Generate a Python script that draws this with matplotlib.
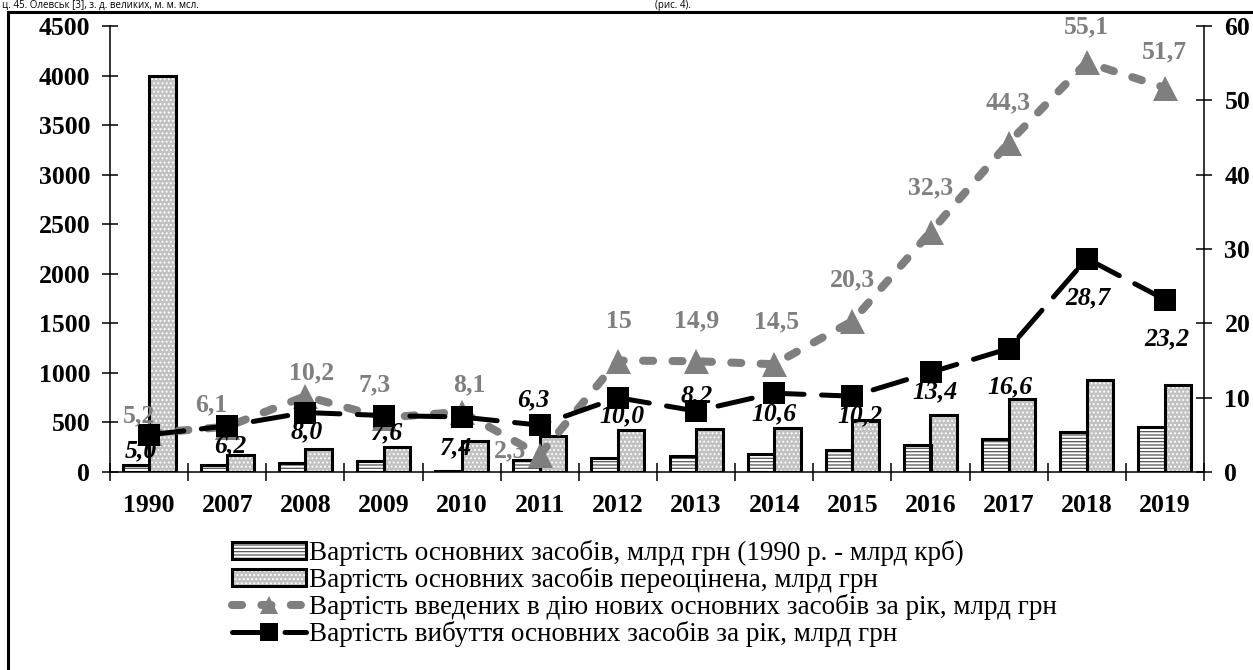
import matplotlib
matplotlib.use("Agg")
import matplotlib.pyplot as plt
from matplotlib.patches import Patch
from matplotlib.lines import Line2D
from matplotlib.legend_handler import HandlerTuple
import numpy as np

# ---- data ----
years = ["1990", "2007", "2008", "2009", "2010", "2011", "2012",
         "2013", "2014", "2015", "2016", "2017", "2018", "2019"]
fixed_assets = [75, 75, 95, 108, 10, 118, 138, 162, 179, 219, 270, 338, 408, 459]
revalued_assets = [4000, 172, 230, 256, 310, 364, 421, 431, 441, 525, 575, 741, 926, 876]
new_assets = [5.2, 6.1, 10.2, 7.3, 8.1, 2.3, 15, 14.9, 14.5, 20.3, 32.3, 44.3, 55.1, 51.7]
new_labels = ["5,2", "6,1", "10,2", "7,3", "8,1", "2,3", "15", "14,9", "14,5",
              "20,3", "32,3", "44,3", "55,1", "51,7"]
retired_assets = [5.0, 6.2, 8.0, 7.6, 7.4, 6.3, 10.0, 8.2, 10.6, 10.2, 13.4, 16.6, 28.7, 23.2]
retired_labels = ["5,0", "6,2", "8,0", "7,6", "7,4", "6,3", "10,0", "8,2", "10,6",
                  "10,2", "13,4", "16,6", "28,7", "23,2"]
left_ticks = [0, 500, 1000, 1500, 2000, 2500, 3000, 3500, 4000, 4500]
right_ticks = [0, 10, 20, 30, 40, 50, 60]
legend_labels = [
    "Вартість основних засобів, млрд грн (1990 р. - млрд крб)",
    "Вартість основних засобів переоцінена, млрд грн",
    "Вартість введених в дію нових основних засобів за рік, млрд грн",
    "Вартість вибуття основних засобів за рік, млрд грн",
]

# label offsets in pixels (dx, dy downwards)
new_off = [(-10, -18), (-16, -22), (6, -23), (-9, -33), (8, -27), (-30, -4),
           (1, -39), (0, -40), (2, -42), (0, -41), (0, -44), (0, -40), (0, -36), (0, -36)]
ret_off = [(-8, 16), (3, 20), (1, 19), (4, 17), (-6, 31), (-7, -25), (4, 18),
           (1, -15), (0, 21), (8, 20), (4, 19), (1, 38), (1, 39), (2, 39)]

SERIF = "Liberation Serif"
GRAY = "#7f7f7f"
plt.rcParams["font.family"] = SERIF
plt.rcParams["hatch.linewidth"] = 0.9

W, H = 1253, 670
fig = plt.figure(figsize=(W / 100, H / 100), dpi=100)
ax = fig.add_axes([110 / W, 1 - 472 / H, (1204 - 110) / W, (472 - 26) / H])
ax2 = ax.twinx()

x = np.arange(len(years))
bw = 0.34
# striped bars
ax.bar(x - bw / 2, fixed_assets, bw, facecolor="white", edgecolor="#555555",
       hatch="-----", linewidth=0, zorder=2)
ax.bar(x - bw / 2, fixed_assets, bw, fill=False, edgecolor="black", linewidth=2.2, zorder=3)
# dotted bars
ax.bar(x + bw / 2, revalued_assets, bw, facecolor="#c2c2c2", edgecolor="white",
       hatch="....", linewidth=0, zorder=2)
ax.bar(x + bw / 2, revalued_assets, bw, fill=False, edgecolor="black", linewidth=2.2, zorder=3)

ax.set_xlim(-0.5, len(years) - 0.5)
ax.set_ylim(0, 4500)
ax2.set_ylim(0, 60)

# lines
ax2.plot(x, new_assets, color=GRAY, linewidth=5.8, linestyle=(0, (1.25, 2.4)),
         dash_capstyle="round", marker="^", markersize=18, markeredgewidth=0,
         markerfacecolor=GRAY, zorder=3)
ax2.plot(x, retired_assets, color="black", linewidth=3.6, linestyle=(0, (7, 3.5)),
         dash_capstyle="round", marker="s", markersize=16, markeredgewidth=0,
         markerfacecolor="black", zorder=4)

for xi, v, lab, (dx, dy) in zip(x, new_assets, new_labels, new_off):
    ax2.annotate(lab, (xi, v), xytext=(dx, -dy), textcoords="offset pixels",
                 ha="center", va="center", color=GRAY, fontsize=18.5,
                 fontweight="bold", zorder=5)
for xi, v, lab, (dx, dy) in zip(x, retired_assets, retired_labels, ret_off):
    ax2.annotate(lab, (xi, v), xytext=(dx, -dy), textcoords="offset pixels",
                 ha="center", va="center", color="black", fontsize=18.5,
                 fontweight="bold", fontstyle="italic", zorder=6)

# axes styling
for s in ["top", "right"]:
    ax.spines[s].set_visible(False)
for s in ["top", "left", "bottom"]:
    ax2.spines[s].set_visible(False)
ax.spines["left"].set_linewidth(1.1)
ax.spines["bottom"].set_linewidth(1.1)
ax2.spines["right"].set_linewidth(1.1)

ax.set_yticks(left_ticks)
ax.set_yticklabels([str(t) for t in left_ticks])
ax2.set_yticks(right_ticks)
ax2.set_yticklabels([str(t) for t in right_ticks])
ax.tick_params(axis="y", direction="inout", length=11.5, width=1.1, pad=8.5,
               labelsize=18.5)
ax2.tick_params(axis="y", direction="inout", length=11.5, width=1.1, pad=9,
                labelsize=18.5)
for t in ax.get_yticklabels() + ax2.get_yticklabels():
    t.set_fontweight("bold")

ax.set_xticks(np.arange(-0.5, len(years), 1.0))
ax.set_xticklabels([])
ax.set_xticks(x, minor=True)
ax.set_xticklabels(years, minor=True)
ax.tick_params(axis="x", which="major", direction="inout", length=13, width=1.1)
ax.tick_params(axis="x", which="minor", length=0, pad=16, labelsize=18.5)
for t in ax.get_xticklabels(minor=True):
    t.set_fontweight("bold")

# legend
h1 = (Patch(facecolor="white", edgecolor="#555555", hatch="-----", linewidth=0),
      Patch(fill=False, edgecolor="black", linewidth=2.2))
h2 = (Patch(facecolor="#c2c2c2", edgecolor="white", hatch="....", linewidth=0),
      Patch(fill=False, edgecolor="black", linewidth=2.2))
h3 = Line2D([], [], color=GRAY, linewidth=5.8, linestyle=(0, (1.25, 2.4)),
            dash_capstyle="round", marker="^", markersize=13, markeredgewidth=0)
h4 = Line2D([], [], color="black", linewidth=3.6, linestyle=(0, (7, 3.5)),
            dash_capstyle="round", marker="s", markersize=13, markeredgewidth=0)
leg = fig.legend([h1, h2, h3, h4], legend_labels,
                 handler_map={tuple: HandlerTuple(ndivide=1, pad=0)},
                 loc="upper left", bbox_to_anchor=(232 / W, 1 - 540 / H),
                 frameon=False, fontsize=19.5, handlelength=2.75, handleheight=0.62,
                 handletextpad=0.1, labelspacing=0.04, borderpad=0, borderaxespad=0,
                 numpoints=1)

# page frame and the tail of the text line above the figure
fig.add_artist(Line2D([8 / W, 1], [1 - 12 / H, 1 - 12 / H], transform=fig.transFigure,
                      color="black", linewidth=2.2))
fig.add_artist(Line2D([8 / W, 8 / W], [0, 1 - 12 / H], transform=fig.transFigure,
                      color="black", linewidth=2.2))
fig.text(2 / W, 1 - 8 / H, "ц. 45. Олевськ [3], з. д. великих, м. м. мсл.",
         fontsize=7, family="Open Sans", va="baseline", ha="left")
fig.text(655 / W, 1 - 8 / H, "(рис. 4).", fontsize=7, family="Open Sans",
         va="baseline", ha="left")

fig.savefig("out.png", dpi=100)
